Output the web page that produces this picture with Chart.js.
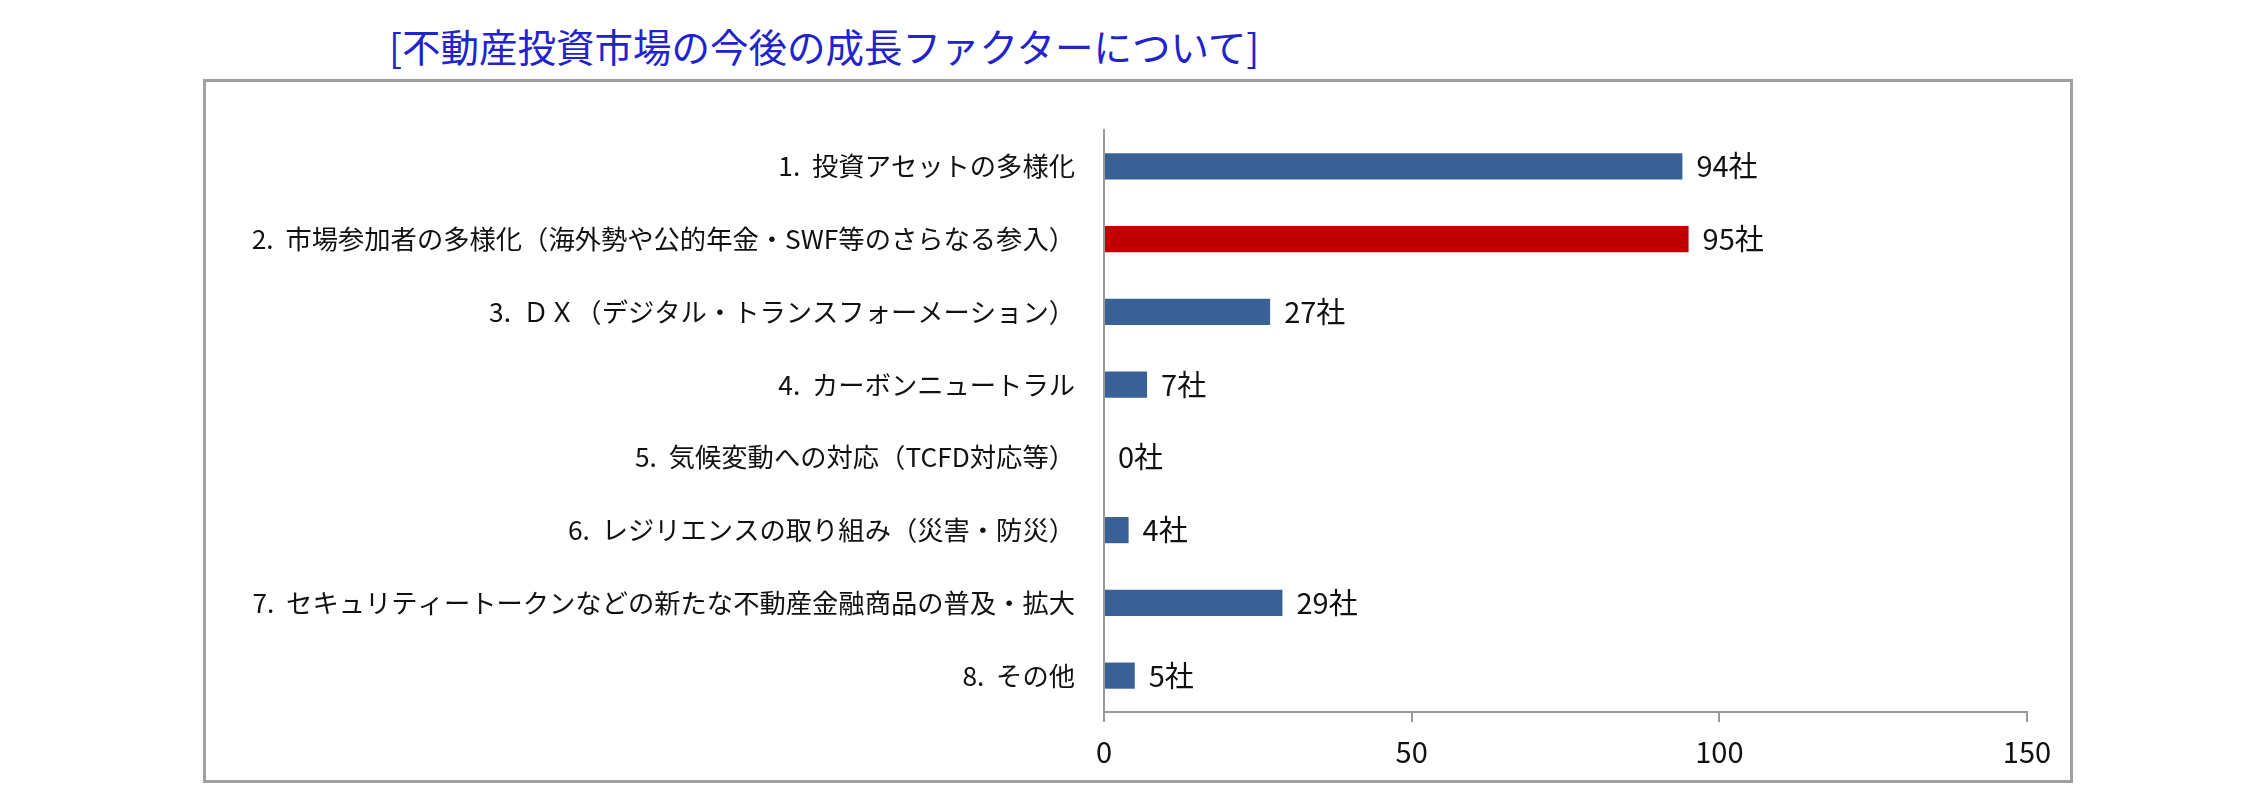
<!DOCTYPE html>
<html>
<head>
<meta charset="utf-8">
<script src="https://cdn.jsdelivr.net/npm/chart.js@4/dist/chart.umd.min.js"></script>
<style>
  html, body { margin: 0; padding: 0; background: #fff; }
  #wrap { position: relative; width: 2242px; height: 799px; overflow: hidden; }
  #title {
    position: absolute; left: 389px; top: 21px;
    font-family: "Noto Sans CJK JP", sans-serif; font-size: 38.5px; line-height: 48px;
    color: #2323cc; white-space: nowrap;
  }
  #frame {
    position: absolute; left: 203px; top: 79px; width: 1864px; height: 698px;
    border: 3px solid #a0a0a0;
  }
  #chart { position: absolute; left: 0; top: 0; }
</style>
</head>
<body>
<div id="wrap">
  <div id="title">[不動産投資市場の今後の成長ファクターについて]</div>
  <div id="frame"></div>
  <canvas id="chart" width="2242" height="799"></canvas>
</div>
<script>
// Data
const categories = [
  '1.  投資アセットの多様化',
  '2.  市場参加者の多様化（海外勢や公的年金・SWF等のさらなる参入）',
  '3.  ＤＸ（デジタル・トランスフォーメーション）',
  '4.  カーボンニュートラル',
  '5.  気候変動への対応（TCFD対応等）',
  '6.  レジリエンスの取り組み（災害・防災）',
  '7.  セキュリティートークンなどの新たな不動産金融商品の普及・拡大',
  '8.  その他'
];
const counts = [94, 95, 27, 7, 0, 4, 29, 5];
const highlightIndex = 1;
const xTicks = [0, 50, 100, 150];
const unit = '社';

const blue = '#3a6195';
const red = '#c00000';
const font = '"Noto Sans CJK JP", sans-serif';

// Value labels at the end of each bar
const valueLabels = {
  id: 'valueLabels',
  afterDatasetsDraw(chart) {
    const c = chart.ctx;
    const meta = chart.getDatasetMeta(0);
    c.save();
    c.font = '29px ' + font;
    c.fillStyle = '#111';
    c.textAlign = 'left';
    c.textBaseline = 'middle';
    meta.data.forEach((bar, i) => {
      c.fillText(counts[i] + unit, bar.x + 14, bar.y);
    });
    c.restore();
  }
};

const ctx = document.getElementById('chart').getContext('2d');
new Chart(ctx, {
  type: 'bar',
  data: {
    labels: categories,
    datasets: [{
      data: counts,
      backgroundColor: counts.map((v, i) => i === highlightIndex ? red : blue),
      borderWidth: 0,
      barPercentage: 0.36,
      categoryPercentage: 1
    }]
  },
  options: {
    indexAxis: 'y',
    responsive: false,
    animation: false,
    layout: { padding: { left: 0, right: 215, top: 130, bottom: 0 } },
    plugins: {
      legend: { display: false },
      tooltip: { enabled: false }
    },
    scales: {
      x: {
        min: 0,
        max: 150,
        afterBuildTicks: axis => { axis.ticks = xTicks.map(v => ({ value: v })); },
        afterFit: axis => { axis.height = 87; },
        grid: { display: true, drawOnChartArea: false, drawTicks: true, tickLength: 10, color: '#999', lineWidth: 2 },
        border: { display: true, color: '#999', width: 2 },
        ticks: { color: '#111', font: { family: font, size: 29 }, padding: 13 }
      },
      y: {
        afterFit: axis => { axis.width = 1104; },
        grid: { display: false, drawTicks: false },
        border: { display: true, color: '#999', width: 2 },
        ticks: { color: '#111', font: { family: font, size: 26.3 }, padding: 29, autoSkip: false }
      }
    }
  },
  plugins: [valueLabels]
});
</script>
</body>
</html>
